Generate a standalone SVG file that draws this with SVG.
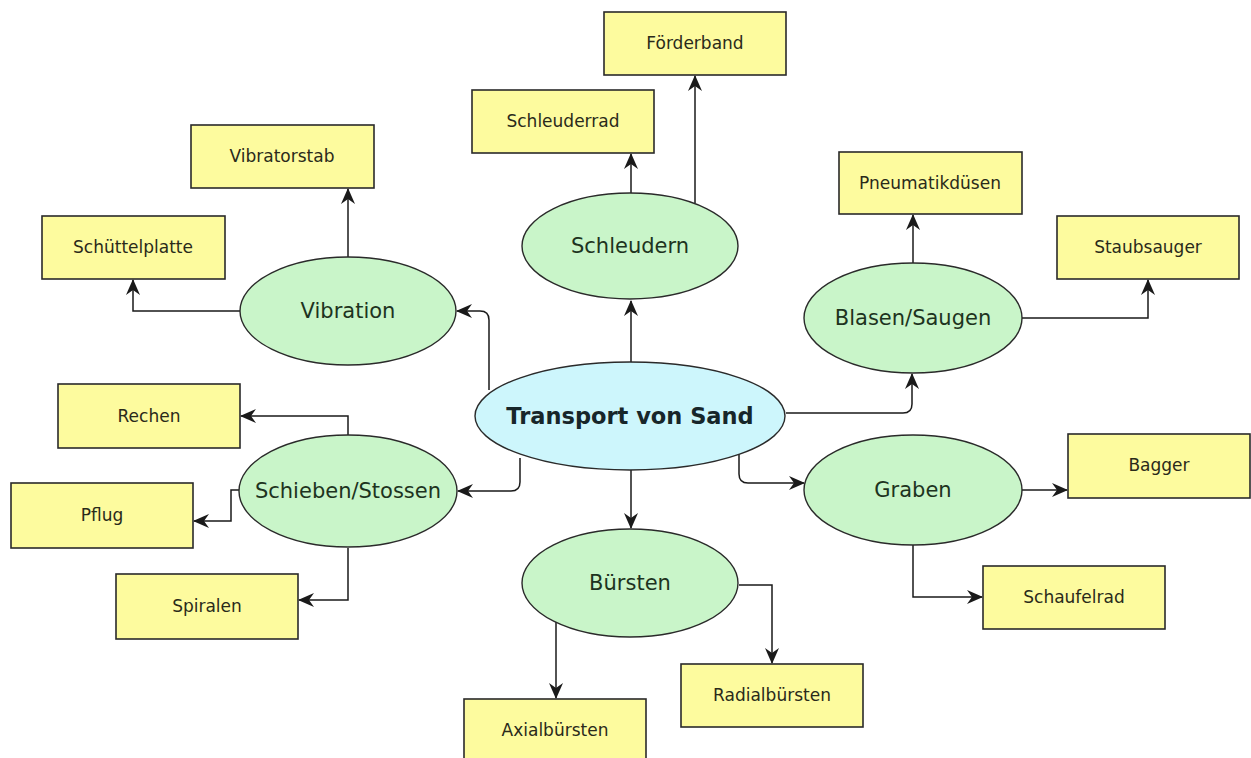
<svg xmlns="http://www.w3.org/2000/svg" width="1251" height="758" viewBox="0 0 1251 758">
<style>
.box{fill:#fdfb9e;stroke:#2a2a2a;stroke-width:1.6}
.ell{fill:#c9f5c9;stroke:#2a2a2a;stroke-width:1.4}
.main{fill:#cdf6fc;stroke:#2a2a2a;stroke-width:1.4}
.bt{font-family:"DejaVu Sans",sans-serif;font-size:17px;fill:#2a2a1a;text-anchor:middle;dominant-baseline:central}
.et{font-family:"DejaVu Sans",sans-serif;font-size:21px;fill:#1d3320;text-anchor:middle;dominant-baseline:central}
.mt{font-family:"DejaVu Sans",sans-serif;font-size:22.5px;font-weight:bold;fill:#17262a;text-anchor:middle;dominant-baseline:central}
.c{fill:none;stroke:#1a1a1a;stroke-width:1.5;marker-end:url(#ah)}
</style>
<defs>
<marker id="ah" markerUnits="userSpaceOnUse" markerWidth="16" markerHeight="14" refX="15" refY="7" orient="auto">
<path d="M0,0 L16,7 L0,14 L5,7 z" fill="#1a1a1a"/>
</marker>
</defs>
<rect width="1251" height="758" fill="#ffffff"/>
<g id="connectors">
<path class="c" d="M631,362 V301"/>
<path class="c" d="M631,193 V154"/>
<path class="c" d="M695,203 V76"/>
<path class="c" d="M489,390 V320 Q489,311 480,311 H457"/>
<path class="c" d="M348,257 V189"/>
<path class="c" d="M240,311 H133 V280"/>
<path class="c" d="M520,458 V482 Q520,491 511,491 H458"/>
<path class="c" d="M348,436 V416 H241"/>
<path class="c" d="M239,490 H231 V521 H194"/>
<path class="c" d="M348,548 V600 H299"/>
<path class="c" d="M631,470 V528"/>
<path class="c" d="M556,622 V698"/>
<path class="c" d="M739,585 H772 V663"/>
<path class="c" d="M786,413 H903 Q912,413 912,404 V374"/>
<path class="c" d="M913,263 V215"/>
<path class="c" d="M1022,318 H1148 V280"/>
<path class="c" d="M739,454 V474 Q739,483 748,483 H804"/>
<path class="c" d="M1021,490 H1067"/>
<path class="c" d="M913,544 V597 H982"/>
</g>
<g id="transport"><ellipse class="main" cx="630" cy="416" rx="155" ry="54"/><text class="mt" x="630" y="416">Transport von Sand</text></g>
<g id="schleudern"><ellipse class="ell" cx="630" cy="246" rx="108" ry="53"/><text class="et" x="630" y="246">Schleudern</text></g>
<g id="schleuderrad"><rect class="box" x="472" y="90" width="182" height="63"/><text class="bt" x="563" y="121">Schleuderrad</text></g>
<g id="foerderband"><rect class="box" x="604" y="12" width="182" height="63"/><text class="bt" x="695" y="43">Förderband</text></g>
<g id="vibration"><ellipse class="ell" cx="348" cy="311" rx="108" ry="54"/><text class="et" x="348" y="311">Vibration</text></g>
<g id="vibratorstab"><rect class="box" x="191" y="125" width="183" height="63"/><text class="bt" x="282" y="156">Vibratorstab</text></g>
<g id="schuettelplatte"><rect class="box" x="42" y="216" width="183" height="63"/><text class="bt" x="133" y="247">Schüttelplatte</text></g>
<g id="schieben"><ellipse class="ell" cx="348" cy="491" rx="109" ry="56"/><text class="et" x="348" y="491">Schieben/Stossen</text></g>
<g id="rechen"><rect class="box" x="58" y="384" width="182" height="64"/><text class="bt" x="149" y="416">Rechen</text></g>
<g id="pflug"><rect class="box" x="11" y="483" width="182" height="65"/><text class="bt" x="102" y="515">Pflug</text></g>
<g id="spiralen"><rect class="box" x="116" y="574" width="182" height="65"/><text class="bt" x="207" y="606">Spiralen</text></g>
<g id="buersten"><ellipse class="ell" cx="630" cy="583" rx="108" ry="54"/><text class="et" x="630" y="583">Bürsten</text></g>
<g id="axialbuersten"><rect class="box" x="464" y="699" width="182" height="64"/><text class="bt" x="555" y="730">Axialbürsten</text></g>
<g id="radialbuersten"><rect class="box" x="681" y="664" width="182" height="63"/><text class="bt" x="772" y="695">Radialbürsten</text></g>
<g id="blasen"><ellipse class="ell" cx="913" cy="318" rx="109" ry="55"/><text class="et" x="913" y="318">Blasen/Saugen</text></g>
<g id="pneumatikduesen"><rect class="box" x="839" y="152" width="183" height="62"/><text class="bt" x="930" y="183">Pneumatikdüsen</text></g>
<g id="staubsauger"><rect class="box" x="1057" y="216" width="182" height="63"/><text class="bt" x="1148" y="247">Staubsauger</text></g>
<g id="graben"><ellipse class="ell" cx="913" cy="490" rx="109" ry="55"/><text class="et" x="913" y="490">Graben</text></g>
<g id="bagger"><rect class="box" x="1068" y="434" width="182" height="64"/><text class="bt" x="1159" y="465">Bagger</text></g>
<g id="schaufelrad"><rect class="box" x="983" y="566" width="182" height="63"/><text class="bt" x="1074" y="597">Schaufelrad</text></g>
</svg>
